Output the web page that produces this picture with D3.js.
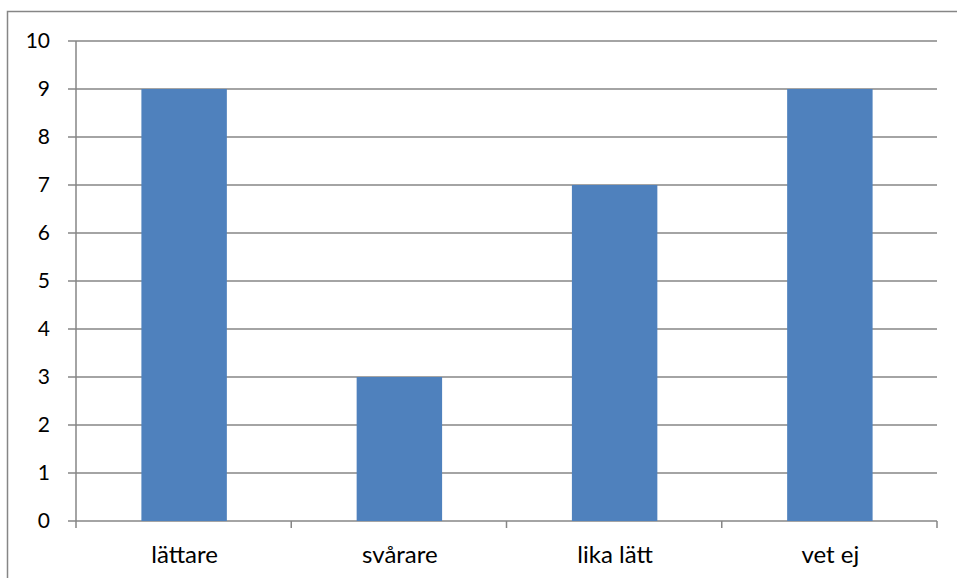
<!DOCTYPE html>
<html>
<head>
<meta charset="utf-8">
<script src="https://cdn.jsdelivr.net/npm/d3@7"></script>
<style>
  body { margin: 0; background: #fff; }
  svg { display: block; }
</style>
</head>
<body>
<script>
// chart data
var categories = ["lättare", "svårare", "lika lätt", "vet ej"];
var values = [9, 3, 7, 9];
var yTicks = [0, 1, 2, 3, 4, 5, 6, 7, 8, 9, 10];

var width = 957, height = 578;
var plotLeft = 76, plotRight = 937, plotTop = 41, plotBottom = 521;
var gridColor = "#868686";
var fontFam = "Lato, 'Open Sans', sans-serif";

var svg = d3.select("body")
  .append("svg")
  .attr("width", width)
  .attr("height", height);

// outer chart border
svg.append("rect")
  .attr("x", 7.5).attr("y", 11.5)
  .attr("width", 960).attr("height", 580)
  .attr("fill", "none")
  .attr("stroke", gridColor)
  .attr("stroke-width", 1.5);

var x = d3.scaleBand().domain(categories).range([plotLeft, plotRight]).paddingInner(0).paddingOuter(0);
var y = d3.scaleLinear().domain([0, 10]).range([plotBottom, plotTop]);

// gridlines
svg.append("g").selectAll("line")
  .data(yTicks)
  .enter().append("line")
  .attr("x1", plotLeft - 8).attr("x2", plotRight)
  .attr("y1", function(d) { return y(d); })
  .attr("y2", function(d) { return y(d); })
  .attr("stroke", gridColor)
  .attr("stroke-width", 1.5);

// bars
var barW = x.bandwidth() * 0.397;
svg.append("g").selectAll("rect")
  .data(values)
  .enter().append("rect")
  .attr("x", function(d, i) { return x(categories[i]) + x.bandwidth() / 2 - barW / 2 + 0.5; })
  .attr("y", function(d) { return y(d); })
  .attr("width", barW)
  .attr("height", function(d) { return y(0) - y(d); })
  .attr("fill", "#4f81bd");

// y axis line
svg.append("line")
  .attr("x1", plotLeft).attr("x2", plotLeft)
  .attr("y1", plotTop).attr("y2", plotBottom + 7)
  .attr("stroke", gridColor).attr("stroke-width", 1.5);

// category ticks
var catEdges = categories.map(function(c) { return x(c) + x.bandwidth(); });
svg.append("g").selectAll("line")
  .data(catEdges)
  .enter().append("line")
  .attr("x1", function(d) { return d; }).attr("x2", function(d) { return d; })
  .attr("y1", plotBottom).attr("y2", plotBottom + 7)
  .attr("stroke", gridColor).attr("stroke-width", 1.5);

// y labels
svg.append("g").selectAll("text")
  .data(yTicks)
  .enter().append("text")
  .attr("x", 50)
  .attr("y", function(d) { return y(d); })
  .attr("dy", "0.35em")
  .attr("text-anchor", "end")
  .attr("font-family", fontFam)
  .attr("font-size", 21)
  .attr("fill", "#000")
  .text(function(d) { return d; });

// x labels
svg.append("g").selectAll("text")
  .data(categories)
  .enter().append("text")
  .attr("x", function(d) { return x(d) + x.bandwidth() / 2 + 1; })
  .attr("y", 563)
  .attr("text-anchor", "middle")
  .attr("font-family", fontFam)
  .attr("font-size", 24)
  .attr("fill", "#000")
  .text(function(d) { return d; });
</script>
</body>
</html>
